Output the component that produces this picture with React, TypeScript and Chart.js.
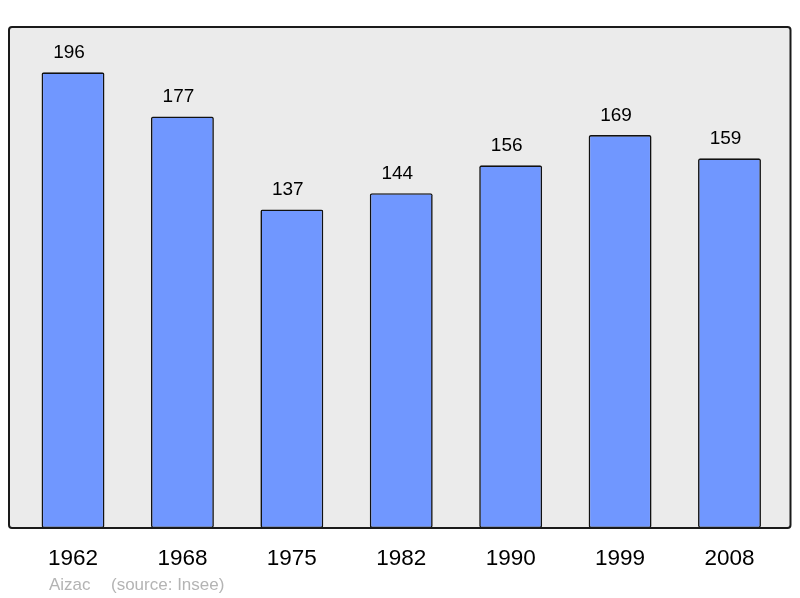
import React, { useEffect, useRef } from "react";
import { Chart, registerables } from "chart.js";

Chart.register(...registerables);

const years = ["1962", "1968", "1975", "1982", "1990", "1999", "2008"];
const population = [196, 177, 137, 144, 156, 169, 159];
const footerPlace = "Aizac";
const footerSource = "(source: Insee)";

const FONT = '"Liberation Sans", Arial, sans-serif';

function roundRect(ctx: CanvasRenderingContext2D, x: number, y: number, w: number, h: number, r: number) {
  ctx.beginPath();
  ctx.moveTo(x + r, y);
  ctx.lineTo(x + w - r, y);
  ctx.quadraticCurveTo(x + w, y, x + w, y + r);
  ctx.lineTo(x + w, y + h - r);
  ctx.quadraticCurveTo(x + w, y + h, x + w - r, y + h);
  ctx.lineTo(x + r, y + h);
  ctx.quadraticCurveTo(x, y + h, x, y + h - r);
  ctx.lineTo(x, y + r);
  ctx.quadraticCurveTo(x, y, x + r, y);
  ctx.closePath();
}

const frameBg = {
  id: "frameBg",
  beforeDatasetsDraw(chart: any) {
    const { ctx, chartArea } = chart;
    const x0 = 9, x1 = 790.5;
    ctx.save();
    roundRect(ctx, x0, chartArea.top, x1 - x0, chartArea.bottom - chartArea.top, 3);
    ctx.fillStyle = "#ebebeb";
    ctx.fill();
    ctx.restore();
  },
  afterDatasetsDraw(chart: any) {
    const { ctx, chartArea, scales } = chart;
    const x0 = 9, x1 = 790.5;
    ctx.save();
    roundRect(ctx, x0, chartArea.top, x1 - x0, chartArea.bottom - chartArea.top, 3);
    ctx.lineWidth = 2;
    ctx.strokeStyle = "#1a1a1a";
    ctx.stroke();

    const meta = chart.getDatasetMeta(0);
    ctx.fillStyle = "#000";
    ctx.textAlign = "center";
    ctx.textBaseline = "alphabetic";
    ctx.font = `19px ${FONT}`;
    meta.data.forEach((bar: any, i: number) => {
      ctx.fillText(String(population[i]), bar.x - 4, bar.y - 14.5);
    });
    ctx.font = `22.5px ${FONT}`;
    years.forEach((y, i) => {
      const x = scales.x.getPixelForValue(i);
      ctx.fillText(y, x, chartArea.bottom + 37);
    });
    ctx.textAlign = "left";
    ctx.font = `17px ${FONT}`;
    ctx.fillStyle = "#b4b4b4";
    ctx.fillText(footerPlace, 49, 590);
    ctx.fillText(footerSource, 111, 590);
    ctx.restore();
  },
};

export default function App() {
  const ref = useRef<HTMLCanvasElement | null>(null);
  useEffect(() => {
    if (!ref.current) return;
    const chart = new Chart(ref.current, {
      type: "bar",
      data: {
        labels: years,
        datasets: [
          {
            data: population,
            backgroundColor: "#7097ff",
            borderColor: "#111",
            borderWidth: 1.6,
            borderRadius: 2,
            borderSkipped: false,
            barPercentage: 0.575,
            categoryPercentage: 1,
          },
        ],
      },
      options: {
        animation: false,
        responsive: false,
        maintainAspectRatio: false,
        layout: { padding: { left: 18.3, right: 15.8, top: 27, bottom: 70 } },
        plugins: { legend: { display: false }, tooltip: { enabled: false }, title: { display: false } },
        scales: {
          x: { display: false, offset: true, grid: { display: false } },
          y: { display: false, min: 0, max: 215.5, grid: { display: false } },
        },
      },
      plugins: [frameBg],
    });
    return () => chart.destroy();
  }, []);
  return (
    <div style={{ position: "fixed", left: 0, top: 0, width: 800, height: 598, background: "#fff" }}>
      <canvas ref={ref} width={800} height={598} style={{ width: 800, height: 598, display: "block" }} />
    </div>
  );
}
